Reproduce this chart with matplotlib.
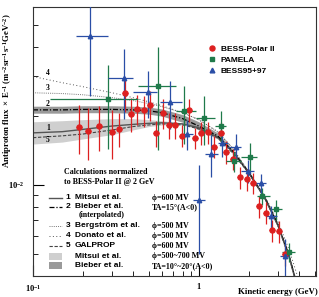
import numpy as np
import matplotlib
matplotlib.use("Agg")
import matplotlib.pyplot as plt
from matplotlib.lines import Line2D
from matplotlib.patches import Rectangle

plt.rcParams['mathtext.default'] = 'regular'

# ---- data (flux in units of 1e-3 m^-2 sr^-1 s^-1 GeV^-2) ----
# BESS-Polar II
bp_E = [0.189, 0.215, 0.250, 0.299, 0.330, 0.361, 0.389, 0.426, 0.466, 0.510,
        0.555, 0.607, 0.659, 0.717, 0.790, 0.871, 0.946, 1.038, 1.133, 1.236,
        1.357, 1.468, 1.609, 1.766, 1.946, 2.115, 2.308, 2.533, 2.78, 3.03, 3.32]
bp_flux = [18.0, 17.3, 18.1, 17.1, 17.6, 25.3, 20.5, 21.5, 21.2, 22.4,
           16.8, 20.7, 18.3, 18.3, 16.4, 21.3, 16.1, 16.9, 17.0, 14.7,
           16.9, 14.0, 13.0, 10.8, 10.6, 10.2, 8.09, 7.58, 6.33, 6.29, 4.98]
bp_err = [4.4, 4.5, 4.0, 4.1, 3.0, 4.4, 3.5, 3.3, 3.2, 3.4,
          2.2, 3.1, 2.4, 2.4, 1.8, 2.4, 1.7, 1.9, 1.9, 1.6,
          1.9, 1.6, 1.4, 1.2, 1.2, 1.1, 0.9, 0.84, 0.70, 0.70, 0.55]

# PAMELA
pam_E = [0.282, 0.564, 0.815, 1.076, 1.357, 1.625, 2.05, 2.42, 2.94, 3.50]
pam_lo = [0.127, 0.43, 0.73, 0.96, 1.25, 1.47, 1.8, 2.24, 2.7, 3.2]
pam_hi = [0.43, 0.73, 0.96, 1.25, 1.47, 1.8, 2.24, 2.7, 3.2, 3.8]
pam_flux = [23.8, 27.2, 21.1, 19.7, 18.1, 12.7, 13.3, 8.95, 7.83, 5.10]
pam_err = [9.5, 13.0, 6.0, 4.7, 3.0, 1.3, 2.0, 0.75, 0.8, 0.5]

# BESS95+97
b97_E = [0.221, 0.353, 0.495, 0.668, 0.855, 1.0, 1.19, 1.39, 1.67, 1.98, 2.36, 2.74, 3.3]
b97_lo = [0.181, 0.283, 0.40, 0.58, 0.79, 0.92, 1.09, 1.3, 1.5, 1.8, 2.15, 2.55, 3.1]
b97_hi = [0.283, 0.40, 0.56, 0.79, 0.92, 1.09, 1.3, 1.5, 1.8, 2.15, 2.55, 2.95, 3.5]
b97_flux = [44.6, 29.5, 25.6, 23.0, 16.7, 8.57, 13.7, 15.2, 14.7, 11.5, 10.2, 7.31, 4.9]
b97_err = [20.0, 10.0, 6.0, 5.5, 2.5, 3.6, 2.9, 2.0, 2.0, 1.3, 1.0, 0.8, 0.9]

# calculations normalized to BESS-Polar II at 2 GeV
calc_E = [0.1, 0.15, 0.2, 0.3, 0.4, 0.5, 0.6, 0.8, 1.0, 1.3, 1.6, 2.0, 2.5, 3.0, 3.5, 4.0]
mitsui = [16.9, 17.1, 17.5, 18.1, 18.4, 18.6, 18.7, 18.5, 17.8, 16.2, 14.0, 11.3, 8.77, 6.68, 4.88, 3.43]
bieber = [21.3, 21.3, 21.4, 21.4, 21.3, 21.1, 20.7, 19.5, 18.1, 16.4, 14.1, 11.4, 8.86, 6.74, 4.93, 3.46]
bergstrom = [25.3, 25.1, 24.8, 24.1, 23.4, 22.7, 22.0, 20.7, 19.3, 17.1, 14.5, 11.4, 8.77, 6.61, 4.83, 3.43]
donato = [29.8, 28.0, 26.9, 25.3, 24.1, 23.1, 22.2, 20.7, 19.3, 17.1, 14.5, 11.4, 8.95, 6.95, 5.24, 3.87]
galprop = [16.1, 16.4, 16.7, 17.4, 18.0, 18.3, 18.5, 18.3, 17.6, 16.1, 13.8, 11.3, 8.77, 6.68, 4.93, 3.46]
mitsui_hi = [18.9, 19.1, 19.3, 19.5, 19.5, 19.3, 19.1, 18.7, 18.0, 16.4, 14.1, 11.4, 8.86, 6.74, 4.93, 3.46]
mitsui_lo = [15.1, 15.4, 15.9, 16.6, 17.4, 18.0, 18.3, 18.3, 17.6, 16.1, 13.8, 11.2, 8.68, 6.61, 4.83, 3.40]
bieber_hi = [22.1, 22.1, 22.2, 22.2, 22.1, 21.9, 21.5, 20.3, 18.9, 16.9, 14.3, 11.5, 8.95, 6.81, 4.98, 3.49]
bieber_lo = [20.6, 20.6, 20.7, 20.7, 20.6, 20.4, 20.0, 18.8, 17.4, 15.9, 13.9, 11.3, 8.77, 6.68, 4.88, 3.43]

red = '#dd2020'
green = '#1f7a4a'
blue = '#2a4ea6'
scale = 1e-3

fig = plt.figure(figsize=(3.19, 2.97), dpi=100)
ax = fig.add_axes([33 / 319, 1 - 276 / 297, 283 / 319, 269 / 297])

E = np.array(calc_E)
ax.fill_between(E, np.array(mitsui_lo) * scale, np.array(mitsui_hi) * scale,
                color='#cfcfcf', lw=0, zorder=1)
ax.fill_between(E, np.array(bieber_lo) * scale, np.array(bieber_hi) * scale,
                color='#9a9a9a', lw=0, zorder=1)
ax.plot(E, np.array(mitsui) * scale, color='#555555', lw=1.0, zorder=2)
ax.plot(E, np.array(bieber) * scale, color='black', lw=0.9, ls=(0, (4, 1.5, 1, 1.5)), zorder=2)
ax.plot(E, np.array(bergstrom) * scale, color='#777777', lw=0.7, ls=(0, (1, 1.2)), zorder=2)
ax.plot(E, np.array(donato) * scale, color='#555555', lw=0.7, ls=(0, (1, 2.5)), zorder=2)
ax.plot(E, np.array(galprop) * scale, color='#444444', lw=0.8, ls=(0, (3, 1.5)), zorder=2)

# data points
def draw(x, lo, hi, y, yerr, color, marker, ms):
    x = np.array(x)
    xerr = [x - np.array(lo), np.array(hi) - x]
    ax.errorbar(x, np.array(y) * scale, yerr=np.array(yerr) * scale, xerr=xerr,
                fmt=marker, color=color, ms=ms, elinewidth=0.9, capsize=0,
                mec=color, zorder=4)

bp = np.array(bp_E)
draw(bp, bp * 0.96, bp * 1.04, bp_flux, bp_err, red, 'o', 3.6)
draw(pam_E, pam_lo, pam_hi, pam_flux, pam_err, green, 's', 3.4)
draw(b97_E, b97_lo, b97_hi, b97_flux, b97_err, blue, '^', 3.2)

ax.set_xscale('log')
ax.set_yscale('log')
ax.set_xlim(0.1, 5.1)
ax.set_ylim(4e-3, 6e-2)

serif = dict(family='Liberation Serif', weight='bold')
sans = dict(family='Liberation Sans', weight='bold')

ax.set_xticks([0.1, 1])
ax.set_xticklabels(['10$^{-1}$', '1'], fontdict=dict(size=6, **serif))
ax.set_yticks([1e-2])
ax.set_yticklabels(['10$^{-2}$'], fontdict=dict(size=6, **serif))
ax.tick_params(which='both', direction='in', top=False, right=False, pad=6)
ax.tick_params(which='major', length=8, width=0.8)
ax.tick_params(which='minor', length=3.5, width=0.6)
ax.tick_params(axis='x', which='major', pad=5)
for s in ax.spines.values():
    s.set_linewidth(0.8)
    s.set_color('#333333')

fig.text(8 / 319, 1 - 91 / 297,
         'Antiproton flux  $\\times$ E$^{-1}$ (m$^{-2}$sr$^{-1}$s$^{-1}$GeV$^{-2}$)',
         rotation=90, ha='center', va='center', size=6.3, **serif)
fig.text(318 / 319, 1 - 292 / 297, 'Kinetic energy (GeV)', ha='right', va='center',
         size=6.3, **serif)

# data legend
handles = [Line2D([], [], ls='none', marker='o', color=red, ms=3.6),
           Line2D([], [], ls='none', marker='s', color=green, ms=3.4),
           Line2D([], [], ls='none', marker='^', color=blue, ms=3.4)]
ax.legend(handles, ['BESS-Polar II', 'PAMELA', 'BESS95+97'], loc='upper left',
          bbox_to_anchor=(0.61, 0.87), frameon=False, handlelength=0.8,
          handletextpad=0.6, labelspacing=0.35, borderaxespad=0,
          prop=dict(size=6, **sans))

# curve labels on the left
for lbl, fy in [('4', 0.755), ('3', 0.699), ('2', 0.639), ('1', 0.550), ('5', 0.506)]:
    ax.text(0.053, fy, lbl, transform=ax.transAxes, ha='center', va='center',
            size=5.5, **serif)

# calculation legend
ax.text(0.108, 0.388, 'Calculations normalized', transform=ax.transAxes,
        va='center', size=5.8, **serif)
ax.text(0.108, 0.349, 'to BESS-Polar II @ 2 GeV', transform=ax.transAxes,
        va='center', size=5.8, **serif)

rows = [
    (0.291, dict(color='#555555', lw=1.0, ls='-'), '1', 'Mitsui et al.', '\u03d5=600 MV'),
    (0.257, dict(color='black', lw=0.9, ls=(0, (4, 1.5, 1, 1.5))), '2', 'Bieber et al.', 'TA=15\u00b0(A<0)'),
    (0.186, dict(color='#777777', lw=0.7, ls=(0, (1, 1.2))), '3', 'Bergstr\u00f6m et al.', '\u03d5=500 MV'),
    (0.149, dict(color='#555555', lw=0.7, ls=(0, (1, 2.5))), '4', 'Donato et al.', '\u03d5=500 MV'),
    (0.112, dict(color='#444444', lw=0.8, ls=(0, (3, 1.5))), '5', 'GALPROP', '\u03d5=600 MV'),
]
for fy, style, num, name, par in rows:
    ax.add_line(Line2D([0.057, 0.102], [fy, fy], transform=ax.transAxes, **style))
    ax.text(0.115, fy, num, transform=ax.transAxes, va='center', size=6, **sans)
    ax.text(0.148, fy, name, transform=ax.transAxes, va='center', size=6, **sans)
    ax.text(0.419, fy, par, transform=ax.transAxes, va='center', size=5.8, **serif)
ax.text(0.16, 0.225, '(interpolated)', transform=ax.transAxes, va='center', size=5.6, **serif)

for fy, col, name, par in [(0.074, '#cfcfcf', 'Mitsui et al.', '\u03d5=500~700 MV'),
                           (0.038, '#9a9a9a', 'Bieber et al.', 'TA=10\u00b0~20\u00b0(A<0)')]:
    ax.add_patch(Rectangle((0.057, fy - 0.013), 0.045, 0.026, transform=ax.transAxes,
                           color=col, lw=0))
    ax.text(0.148, fy, name, transform=ax.transAxes, va='center', size=6, **sans)
    ax.text(0.419, fy, par, transform=ax.transAxes, va='center', size=5.8, **serif)

fig.savefig('out.png', dpi=100)
